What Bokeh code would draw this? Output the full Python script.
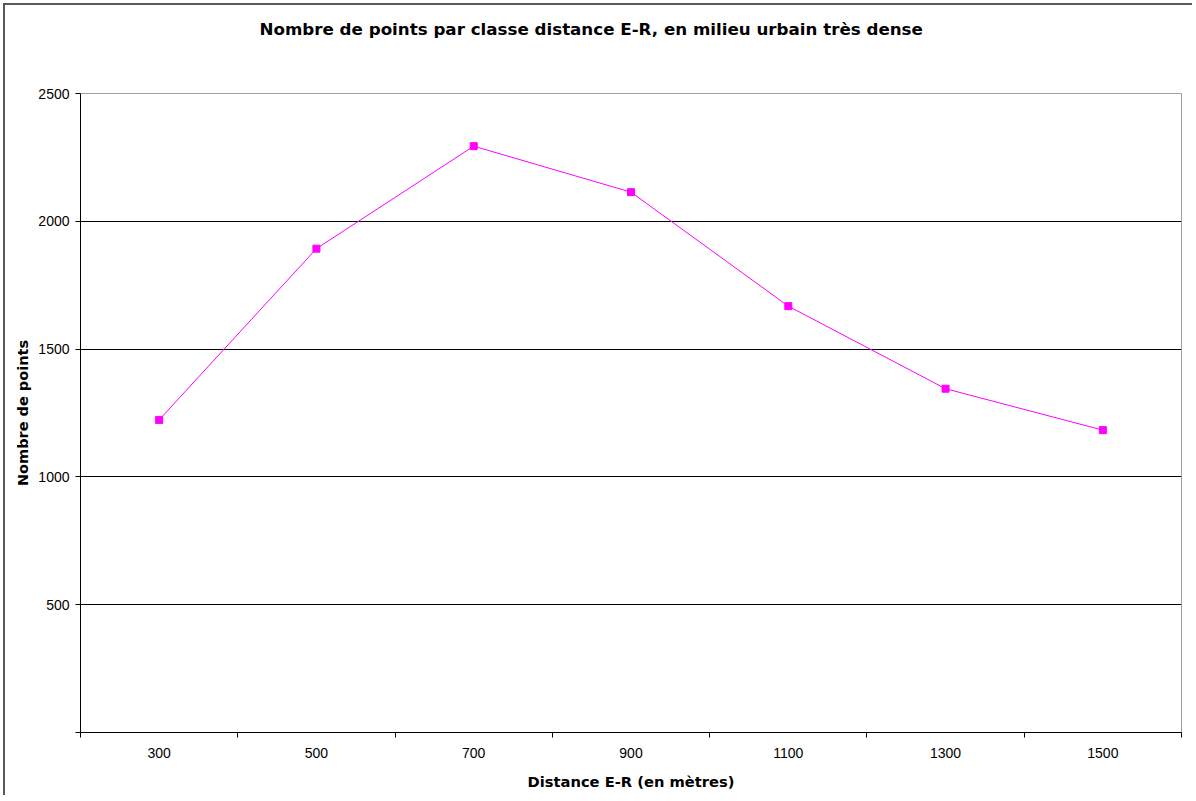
from bokeh.plotting import figure
from bokeh.models import Range1d, FixedTicker
from bokeh.embed import file_html
from bokeh.resources import INLINE

# ---- data ----
title_text = "Nombre de points par classe distance E-R, en milieu urbain très dense"
x_label = "Distance E-R (en mètres)"
y_label = "Nombre de points"
distances = [300, 500, 700, 900, 1100, 1300, 1500]
points = [1223, 1893, 2294, 2114, 1668, 1345, 1183]
y_ticks = [0, 500, 1000, 1500, 2000, 2500]
grid_values = [500, 1000, 1500, 2000]

step = distances[1] - distances[0]
bounds = [d - step / 2 for d in distances] + [distances[-1] + step / 2]

p = figure(width=1189, height=792, output_backend="svg", toolbar_location=None,
           x_range=Range1d(bounds[0], bounds[-1]), y_range=Range1d(0, 2500),
           min_border_left=75, min_border_right=13, min_border_top=88, min_border_bottom=65)
p.styles = {"border-top": "2px solid #5a5a5a", "border-left": "2px solid #5a5a5a",
            "margin-top": "3px", "margin-left": "3px"}
p.background_fill_color = "white"
p.border_fill_color = "white"
p.outline_line_color = "#a0a0a0"
p.outline_line_width = 1

# title (two blank lines below lift it away from the plot area)
p.title.text = title_text + "\n \n "
p.title.text_font = "DejaVu Sans"
p.title.text_font_style = "bold"
p.title.text_font_size = "16.7px"
p.title.text_color = "black"
p.title.align = "left"
p.title.offset = 179
p.title.vertical_align = "top"
p.title.standoff = 25

# axes
xa = p.xaxis[0]
xa.ticker = FixedTicker(ticks=distances, minor_ticks=bounds)
xa.major_tick_in = 0
xa.major_tick_out = 0
xa.minor_tick_in = 0
xa.minor_tick_out = 5
xa.minor_tick_line_color = "black"
xa.axis_line_color = "black"
xa.major_label_text_font = "Liberation Sans"
xa.major_label_text_font_size = "14px"
xa.major_label_text_color = "black"
xa.major_label_standoff = 10
xa.axis_label = x_label
xa.axis_label_text_font = "DejaVu Sans"
xa.axis_label_text_font_style = "bold"
xa.axis_label_text_font_size = "14.7px"
xa.axis_label_text_color = "black"
xa.axis_label_standoff = 12

ya = p.yaxis[0]
ya.ticker = FixedTicker(ticks=y_ticks, minor_ticks=[])
ya.major_label_overrides = {0: ""}
ya.major_tick_in = 0
ya.major_tick_out = 5
ya.minor_tick_out = 0
ya.axis_line_color = "black"
ya.major_tick_line_color = "black"
ya.major_label_text_font = "Liberation Sans"
ya.major_label_text_font_size = "14px"
ya.major_label_text_color = "black"
ya.major_label_standoff = 6
ya.axis_label = y_label
ya.axis_label_text_font = "DejaVu Sans"
ya.axis_label_text_font_style = "bold"
ya.axis_label_text_font_size = "14.5px"
ya.axis_label_text_color = "black"
ya.axis_label_standoff = 4

p.xgrid.visible = False
p.ygrid[0].ticker = FixedTicker(ticks=grid_values)
p.ygrid[0].grid_line_color = "black"
p.ygrid[0].grid_line_width = 1

# series
p.line(distances, points, line_color="#ff00ff", line_width=1)
p.scatter(distances, points, marker="square", size=7, fill_color="#ff00ff", line_color="#ff00ff")

open("out.html", "w").write(file_html(p, INLINE))
